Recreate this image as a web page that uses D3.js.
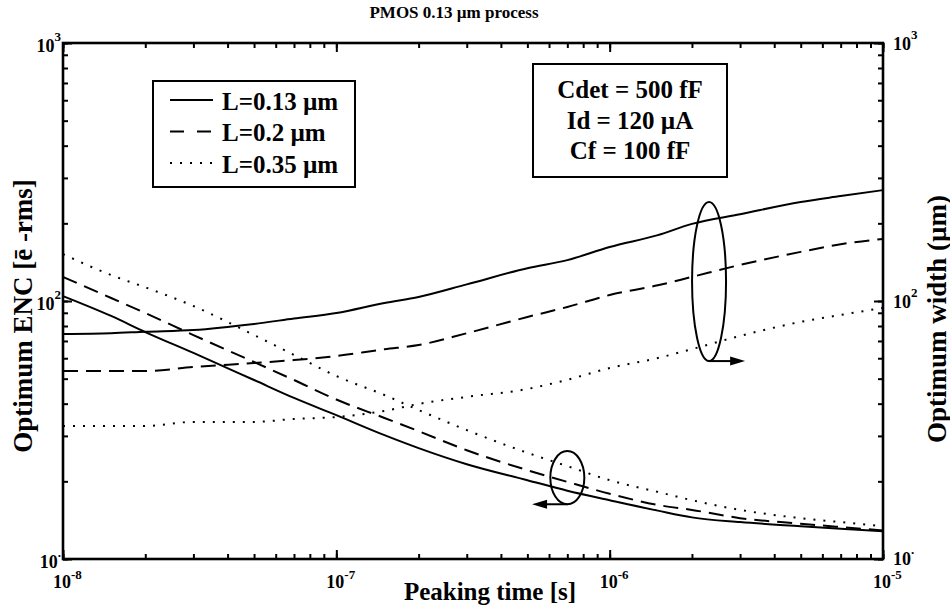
<!DOCTYPE html>
<html>
<head>
<meta charset="utf-8">
<script src="https://cdn.jsdelivr.net/npm/d3@7"></script>
<style>
  body { margin: 0; background: #fff; }
  text { font-family: "Liberation Serif", "Times New Roman", serif; font-weight: bold; fill: #000; }
</style>
</head>
<body>
<svg width="950" height="610"></svg>
<script>
// peaking time grid (s)
var peakTime = [1e-8, 1.5e-8, 2e-8, 3e-8, 5e-8, 7e-8, 1e-7, 1.5e-7, 2e-7, 3e-7, 5e-7, 7e-7, 1e-6, 1.5e-6, 2e-6, 3e-6, 5e-6, 7e-6, 1e-5];

// optimum ENC (e- rms), left axis
var encL013 = [104.5, 87.5, 75.8, 62.9, 49.4, 42.1, 36.1, 30.2, 26.9, 23.3, 20.2, 18.4, 16.9, 15.4, 14.5, 13.9, 13.4, 13.1, 12.8];
var encL02  = [124, 102.7, 89.8, 73.8, 58, 49.4, 41.5, 35.2, 31.3, 26.4, 22.1, 19.9, 17.9, 16.2, 15.5, 14.4, 13.7, 13.3, 12.9];
var encL035 = [152, 126, 113, 95.6, 73.8, 61.8, 51.2, 43.2, 37.8, 31.6, 25.8, 22.9, 20.2, 18.2, 16.9, 15.5, 14.4, 13.9, 13.4];

// optimum width (um), right axis
var widthL013 = [74.5, 75, 76, 77.2, 81.5, 85.5, 89.8, 98.3, 103.7, 116, 134, 144, 162, 180, 199, 217, 242, 255, 269];
var widthL02  = [53.5, 53.5, 53.5, 55.5, 57.5, 59, 61.2, 65, 67.5, 75, 86.7, 94.8, 105.5, 115, 124, 138, 155, 166, 174];
var widthL035 = [32.8, 32.8, 32.8, 34, 34, 34.9, 35.5, 37.5, 39.9, 42.5, 45.6, 49.5, 55, 60.1, 65.1, 73.2, 83, 88.3, 94];

var legendLabels = ['L=0.13 \u00b5m', 'L=0.2 \u00b5m', 'L=0.35 \u00b5m'];
var paramLabels = ['Cdet = 500 fF', 'Id = 120 \u00b5A', 'Cf = 100 fF'];

var xMajor = [1e-8, 1e-7, 1e-6, 1e-5];
var xTickExp = ['-8', '-7', '-6', '-5'];
var yMajor = [10, 100, 1000];
var yTickExp = ['.', '2', '3'];

// ellipse annotations: [time at centre, top value, bottom value, arrow tip time]
var widthMark = [2.31e-6, 242, 58.5, 3.13e-6];
var encMark = [7.0e-7, 26.2, 16.3, 5.2e-7];

var svg = d3.select('svg');
var pLeft = 63, pRight = 883, pTop = 43, pBottom = 559;

var x = d3.scaleLog().domain([1e-8, 1e-5]).range([pLeft, pRight]);
var yLeft = d3.scaleLog().domain([10, 1000]).range([pBottom, pTop]);
var yRight = d3.scaleLog().domain([10, 1000]).range([pBottom, pTop]);

var styles = [
  { dash: null, lw: 2 },
  { dash: '15,8', lw: 2 },
  { dash: '2,8', lw: 2 }
];

// ticks (inward, minor + major)
function ticks(axis, tr, size) {
  var g = svg.append('g').attr('transform', tr).call(axis.tickSize(size).tickFormat(''));
  g.select('.domain').remove();
  g.selectAll('line').attr('stroke', '#000').attr('stroke-width', 2);
}
var xMinor = x.ticks();
var yMinor = yLeft.ticks();
ticks(d3.axisBottom(x).tickValues(xMinor), 'translate(0,' + pBottom + ')', -5);
ticks(d3.axisBottom(x).tickValues(xMajor), 'translate(0,' + pBottom + ')', -9);
ticks(d3.axisTop(x).tickValues(xMinor), 'translate(0,' + pTop + ')', -5);
ticks(d3.axisTop(x).tickValues(xMajor), 'translate(0,' + pTop + ')', -9);
ticks(d3.axisLeft(yLeft).tickValues(yMinor), 'translate(' + pLeft + ',0)', -5);
ticks(d3.axisLeft(yLeft).tickValues(yMajor), 'translate(' + pLeft + ',0)', -9);
ticks(d3.axisRight(yRight).tickValues(yMinor), 'translate(' + pRight + ',0)', -5);
ticks(d3.axisRight(yRight).tickValues(yMajor), 'translate(' + pRight + ',0)', -9);

// curves
var lineL = d3.line().x(function(d) { return x(d[0]); }).y(function(d) { return yLeft(d[1]); }).curve(d3.curveMonotoneX);
var lineR = d3.line().x(function(d) { return x(d[0]); }).y(function(d) { return yRight(d[1]); }).curve(d3.curveMonotoneX);
function zip(vals) { return peakTime.map(function(t, i) { return [t, vals[i]]; }); }

[widthL013, widthL02, widthL035].forEach(function(v, i) {
  svg.append('path').attr('d', lineR(zip(v))).attr('fill', 'none').attr('stroke', '#000')
    .attr('stroke-width', styles[i].lw).attr('stroke-dasharray', styles[i].dash);
});
[encL013, encL02, encL035].forEach(function(v, i) {
  svg.append('path').attr('d', lineL(zip(v))).attr('fill', 'none').attr('stroke', '#000')
    .attr('stroke-width', styles[i].lw).attr('stroke-dasharray', styles[i].dash);
});

// frame
svg.append('rect').attr('x', pLeft).attr('y', pTop).attr('width', pRight - pLeft).attr('height', pBottom - pTop)
  .attr('fill', 'none').attr('stroke', '#000').attr('stroke-width', 2.6);

// tick labels
svg.selectAll('.xlab').data(xMajor).enter().append('text')
  .attr('class', 'xlab')
  .attr('x', function(d) { return x(d) - 10; })
  .attr('y', pBottom + 29)
  .style('font-size', '18px')
  .each(function(d, i) {
    var t = d3.select(this);
    t.append('tspan').text('10');
    t.append('tspan').attr('dy', -9).style('font-size', '13px').text(xTickExp[i]);
  });

svg.selectAll('.ylab').data(yMajor).enter().append('text')
  .attr('class', 'ylab')
  .attr('x', pLeft - 2)
  .attr('y', function(d) { return yLeft(d) + 9; })
  .attr('text-anchor', 'end')
  .style('font-size', '18px')
  .each(function(d, i) {
    var t = d3.select(this);
    t.append('tspan').text('10');
    t.append('tspan').attr('dy', -11).style('font-size', '13px').text(yTickExp[i]);
  });

svg.selectAll('.rlab').data(yMajor).enter().append('text')
  .attr('class', 'rlab')
  .attr('x', pRight + 10)
  .attr('y', function(d) { return yRight(d) + (d === 10 ? 6 : 7); })
  .style('font-size', '18px')
  .each(function(d, i) {
    var t = d3.select(this);
    t.append('tspan').text('10');
    t.append('tspan').attr('dy', -11).style('font-size', '13px').text(yTickExp[i]);
  });

// titles
svg.append('text').attr('x', 454).attr('y', 18).attr('text-anchor', 'middle')
  .style('font-size', '17px').text('PMOS 0.13 \u00b5m process');
svg.append('text').attr('x', 490).attr('y', 600).attr('text-anchor', 'middle')
  .style('font-size', '25px').text('Peaking time [s]');
svg.append('text').attr('transform', 'translate(32,316) rotate(-90)').attr('text-anchor', 'middle')
  .style('font-size', '27px').text('Optimum ENC [\u0113 -rms]');
svg.append('text').attr('transform', 'translate(946,319) rotate(-90)').attr('text-anchor', 'middle')
  .style('font-size', '27px').text('Optimum width (\u00b5m)');

// legend box
var leg = svg.append('g');
leg.append('rect').attr('x', 153).attr('y', 81).attr('width', 202).attr('height', 106)
  .attr('fill', '#fff').attr('stroke', '#000').attr('stroke-width', 2);
var legDash = [null, '14,13', '2,8'];
legendLabels.forEach(function(lab, i) {
  var ly = 100 + i * 31.5;
  leg.append('line').attr('x1', 170).attr('x2', 213).attr('y1', ly).attr('y2', ly)
    .attr('stroke', '#000').attr('stroke-width', 2).attr('stroke-dasharray', legDash[i]);
  leg.append('text').attr('x', 222).attr('y', ly + 9.5).style('font-size', '25px').text(lab);
});

// parameter box
var par = svg.append('g');
par.append('rect').attr('x', 533).attr('y', 64).attr('width', 194).attr('height', 113)
  .attr('fill', '#fff').attr('stroke', '#000').attr('stroke-width', 2);
paramLabels.forEach(function(lab, i) {
  par.append('text').attr('x', 630).attr('y', 98 + i * 30.5).attr('text-anchor', 'middle')
    .style('font-size', '25px').text(lab);
});

// ellipse markers with arrows
function marker(m, yScale) {
  var cx = x(m[0]);
  var y1 = yScale(m[1]), y2 = yScale(m[2]);
  svg.append('ellipse').attr('cx', cx).attr('cy', (y1 + y2) / 2).attr('rx', 17).attr('ry', (y2 - y1) / 2)
    .attr('fill', 'none').attr('stroke', '#000').attr('stroke-width', 2);
  var tip = x(m[3]);
  var dir = tip > cx ? 1 : -1;
  svg.append('line').attr('x1', cx).attr('x2', tip - dir * 12).attr('y1', y2).attr('y2', y2)
    .attr('stroke', '#000').attr('stroke-width', 2);
  svg.append('path')
    .attr('d', 'M' + tip + ',' + y2 + 'L' + (tip - dir * 15) + ',' + (y2 - 4.5) + 'L' + (tip - dir * 15) + ',' + (y2 + 4.5) + 'Z')
    .attr('fill', '#000');
}
marker(widthMark, yRight);
marker(encMark, yLeft);
</script>
</body>
</html>
